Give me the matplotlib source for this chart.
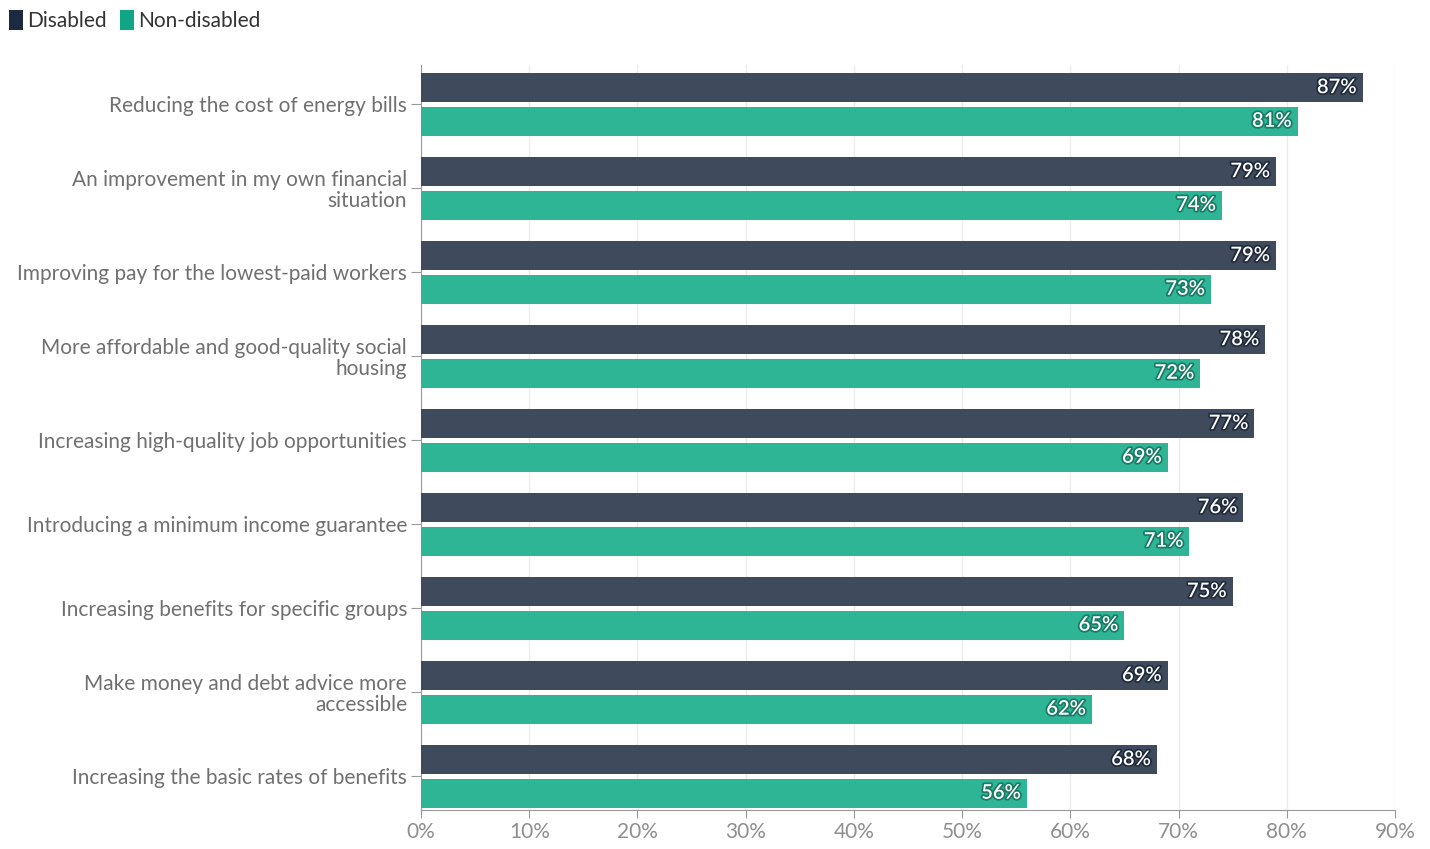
import matplotlib.pyplot as plt
import matplotlib.patheffects as pe
from matplotlib.patches import Patch
import numpy as np

categories = [
    "Reducing the cost of energy bills",
    "An improvement in my own financial\nsituation",
    "Improving pay for the lowest-paid workers",
    "More affordable and good-quality social\nhousing",
    "Increasing high-quality job opportunities",
    "Introducing a minimum income guarantee",
    "Increasing benefits for specific groups",
    "Make money and debt advice more\naccessible",
    "Increasing the basic rates of benefits",
]
disabled = [87, 79, 79, 78, 77, 76, 75, 69, 68]
non_disabled = [81, 74, 73, 72, 69, 71, 65, 62, 56]
ticks = [0, 10, 20, 30, 40, 50, 60, 70, 80, 90]

dark = "#3f4a5c"
green = "#2db596"
text_gray = "#707070"

plt.rcParams['font.family'] = ['Lato', 'DejaVu Sans']

fig = plt.figure(figsize=(14.3, 8.49), dpi=100)
ax = fig.add_axes([421 / 1430, 1 - 810 / 849, (1395 - 421) / 1430, (810 - 65) / 849])

y = np.arange(len(categories))
h = 0.345
b1 = ax.barh(y - 0.2, disabled, height=h, color=dark, zorder=3)
b2 = ax.barh(y + 0.2, non_disabled, height=h, color=green, zorder=3)

for bars, vals, edge in [(b1, disabled, "#1f2a3a"), (b2, non_disabled, "#1a7a64")]:
    for bar, v in zip(bars, vals):
        t = ax.text(v - 0.55, bar.get_y() + bar.get_height() / 2, f"{v}%",
                    ha="right", va="center", color="white", fontsize=14.5,
                    fontweight="semibold", zorder=4)
        t.set_path_effects([pe.withStroke(linewidth=2.5, foreground=edge)])

ax.set_ylim(8.4, -0.47)
ax.set_xlim(0, 90)
ax.set_yticks(y)
ax.set_yticklabels(categories, fontsize=15, color=text_gray, linespacing=1.02)
ax.set_xticks(ticks)
ax.set_xticklabels([f"{t}%" for t in ticks], fontsize=15, color="#8f8f8f")
ax.tick_params(axis="y", length=7, color="#999999", pad=3)
ax.tick_params(axis="x", length=6, color="#999999", pad=3)

ax.grid(axis="x", color="#ececec", linewidth=1, zorder=0)
for s in ["top", "right"]:
    ax.spines[s].set_visible(False)
for s in ["left", "bottom"]:
    ax.spines[s].set_color("#999999")

handles = [Patch(facecolor="#1b2a40", label="Disabled"),
           Patch(facecolor="#10a683", label="Non-disabled")]
fig.legend(handles=handles, loc="upper left", bbox_to_anchor=(-0.004, 1.005),
           ncol=2, frameon=False, fontsize=15, handlelength=0.7, handleheight=1.1,
           handletextpad=0.2, columnspacing=0.6, labelcolor="#333333",
           borderaxespad=0.3)

fig.savefig("out.png", dpi=100)
